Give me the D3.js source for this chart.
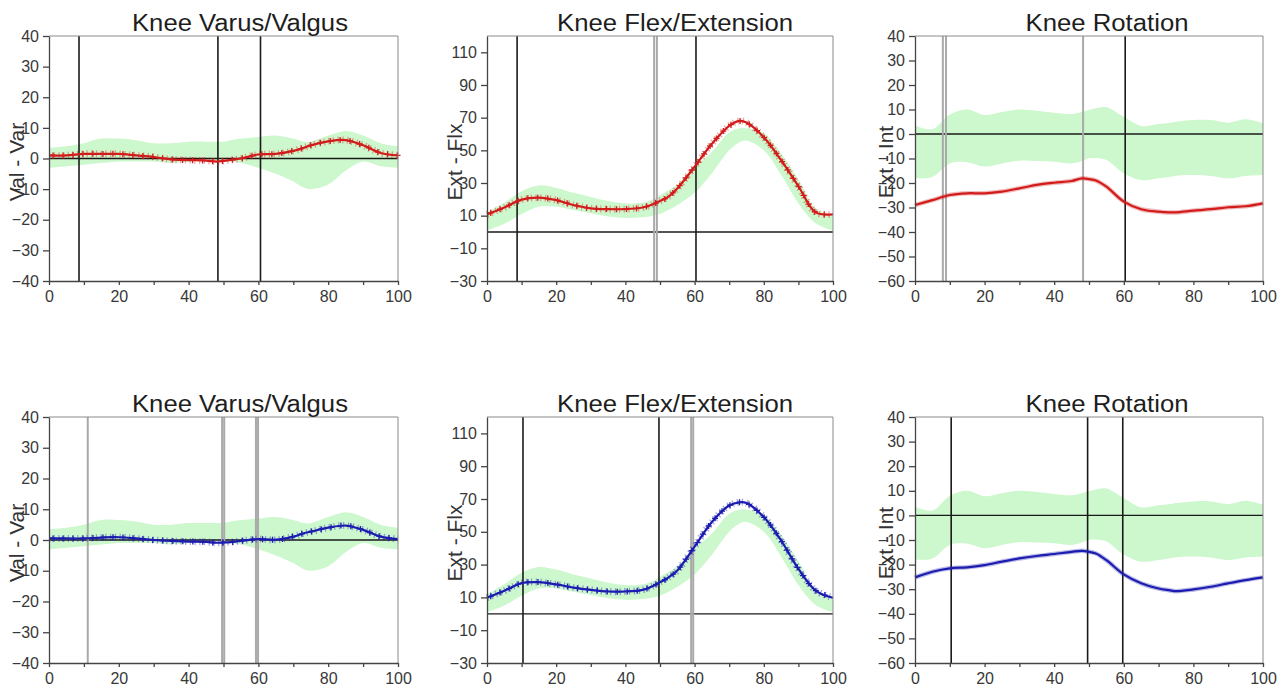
<!DOCTYPE html>
<html>
<head>
<meta charset="utf-8">
<script src="https://d3js.org/d3.v7.min.js"></script>
<style>
    body { margin: 0; background: #fff; }
    svg { display: block; font-family: "Liberation Sans", Arial, sans-serif; }
    .tick text { fill: #383838; }
</style>
</head>
<body>
<script>
//gait cycle percentages the curves were read at
var pct = [0, 5, 10, 15, 20, 25, 30, 35, 40, 45, 48, 50, 52, 55, 60, 65, 70, 73, 75, 80, 85, 90, 95, 100];

//normal bands (same for both sides)
var varusBandHi = [3.5, 4, 5, 6.5, 6.5, 6, 5, 5, 5.5, 5.5, 5.5, 5.5, 6, 6.5, 7, 7.5, 6.5, 5.5, 5.5, 7.5, 9, 7.5, 5, 4];
var varusBandLo = [-3, -2.5, -2, -1.5, -1, -1, -1, -1.5, -1, -0.5, -0.5, -0.5, -1, -1.5, -3, -5, -7.5, -9.5, -10, -8.5, -4, -1, -2.5, -3];
var flexBandHi = [12, 18, 25, 28.5, 27, 24, 21.5, 19, 17.5, 18, 20, 22.5, 25, 29, 40, 49, 61, 63.5, 63.5, 60.4, 48, 32, 14.5, 9.4];
var flexBandLo = [1, 5, 11, 15.5, 15.5, 13.5, 11.5, 9.5, 8.5, 9, 10, 11, 13, 16.5, 24, 36, 50, 55, 56, 50, 35, 17.5, 5.3, 0.8];
var rotBandHi = [3.5, 2, 8, 10, 7.8, 9, 10, 9.5, 8.7, 8.2, 9, 9.8, 10.5, 10.9, 7, 3.3, 4.1, 4.5, 5, 5.7, 5.7, 4.6, 6, 4.4];
var rotBandLo = [-18, -17.5, -12, -11.5, -13.3, -12, -10.9, -11, -11.3, -12, -11, -9.9, -9.8, -10.6, -16, -18.8, -18.1, -17.5, -17, -16.7, -17.1, -18.1, -17.1, -16.7];

//left side (red, top row)
var varusLeft = [1, 1, 1.5, 1.5, 1.5, 1, 0.5, -0.3, -0.5, -0.7, -1, -0.8, -0.5, 0, 1.3, 1.5, 2.5, 3.5, 4.3, 5.6, 6, 4.3, 1.8, 1];
var flexLeft = [10.8, 15, 19.8, 21, 19.5, 16.5, 14.5, 14, 14, 15, 17, 19, 21, 26.7, 40, 54, 65, 68, 67, 58, 44, 28, 12, 10.8];
var rotLeft = [-29, -27, -24.9, -24.2, -24.2, -23.5, -22.2, -20.8, -19.9, -19.2, -18.1, -18.4, -19, -21.5, -27.6, -30.7, -31.7, -32, -32, -31.3, -30.7, -29.9, -29.5, -28.3];

//right side (blue, bottom row)
var varusRight = [0.5, 0.5, 0.5, 0.8, 0.9, 0.5, 0, -0.3, -0.5, -0.6, -0.9, -0.8, -0.7, -0.3, 0.3, 0.1, 1.1, 2.2, 2.7, 4, 4.7, 3.3, 1.1, 0.3];
var flexRight = [9.8, 14, 18.7, 19.3, 17.9, 16, 14.6, 13.6, 13.6, 14.6, 17, 19.3, 21.5, 26.4, 41, 56, 66, 68, 67.5, 59, 44.7, 27.4, 14.2, 9.8];
var rotRight = [-25.2, -22.9, -21.5, -21.1, -20.2, -18.8, -17.5, -16.5, -15.7, -14.8, -14.4, -14.8, -15.5, -18.2, -24, -27.6, -29.7, -30.4, -30.8, -30.1, -29, -27.6, -26.3, -25.2];

//gait events per panel (k = patient, g = normal)
var eventsVarusL = [8.6, 48.4, 60.6];
var eventKindVarusL = ["k", "k", "k"];
var eventsFlexL = [8.7, 48.3, 49.1, 60.4];
var eventKindFlexL = ["k", "g", "g", "k"];
var eventsRotL = [8.0, 8.9, 48.3, 60.4];
var eventKindRotL = ["g", "g", "g", "k"];
var eventsVarusR = [11.1, 49.6, 50.2, 59.3, 59.9];
var eventKindVarusR = ["g", "g", "g", "g", "g"];
var eventsFlexR = [10.4, 49.7, 59.0, 59.6];
var eventKindFlexR = ["k", "k", "g", "g"];
var eventsRotR = [10.4, 49.6, 59.7];
var eventKindRotR = ["k", "k", "k"];

//titles, axis labels and ticks
var titles = ["Knee Varus/Valgus", "Knee Flex/Extension", "Knee Rotation"];
var yLabels = ["Val - Var", "Ext - Flx", "Ext - Int"];
var yDomains = [[-40, 40], [-30, 120], [-60, 40]];
var yTicks = [
    [-40, -30, -20, -10, 0, 10, 20, 30, 40],
    [-30, -10, 10, 30, 50, 70, 90, 110],
    [-60, -50, -40, -30, -20, -10, 0, 10, 20, 30, 40]
];
var xTicks = [0, 10, 20, 30, 40, 50, 60, 70, 80, 90, 100];

//page layout
var width = 1282,
    height = 689;
var colLeft = [49, 487, 915],
    colRight = [398, 833, 1263],
    rowTop = [36, 417],
    rowBottom = [281, 663],
    titleX = [240, 675, 1107],
    titleLen = [216, 236, 163],
    titleY = [31, 412],
    yLabelX = [24, 462, 893];

var svg = d3.select("body")
    .append("svg")
    .attr("width", width)
    .attr("height", height);

var panels = [
    {row: 0, col: 0, hi: varusBandHi, lo: varusBandLo, mean: varusLeft, ev: eventsVarusL, kind: eventKindVarusL, color: "#d21c1c", marks: true},
    {row: 0, col: 1, hi: flexBandHi, lo: flexBandLo, mean: flexLeft, ev: eventsFlexL, kind: eventKindFlexL, color: "#d21c1c", marks: true},
    {row: 0, col: 2, hi: rotBandHi, lo: rotBandLo, mean: rotLeft, ev: eventsRotL, kind: eventKindRotL, color: "#d21c1c", marks: false},
    {row: 1, col: 0, hi: varusBandHi, lo: varusBandLo, mean: varusRight, ev: eventsVarusR, kind: eventKindVarusR, color: "#1c1cb0", marks: true},
    {row: 1, col: 1, hi: flexBandHi, lo: flexBandLo, mean: flexRight, ev: eventsFlexR, kind: eventKindFlexR, color: "#1c1cb0", marks: true},
    {row: 1, col: 2, hi: rotBandHi, lo: rotBandLo, mean: rotRight, ev: eventsRotR, kind: eventKindRotR, color: "#1c1cb0", marks: false}
];

panels.forEach(drawPanel);

function drawPanel(p){
    var x = d3.scaleLinear().domain([0, 100]).range([colLeft[p.col], colRight[p.col]]);
    var y = d3.scaleLinear().domain(yDomains[p.col]).range([rowBottom[p.row], rowTop[p.row]]);
    var g = svg.append("g");

    //normal band
    var area = d3.area()
        .x(function(d, i){ return x(pct[i]); })
        .y0(function(d, i){ return y(p.lo[i]); })
        .y1(function(d){ return y(d); })
        .curve(d3.curveCatmullRom);
    g.append("path")
        .datum(p.hi)
        .attr("d", area)
        .attr("fill", "#cdf7cd");

    //zero line
    g.append("line")
        .attr("x1", x(0)).attr("x2", x(100))
        .attr("y1", y(0)).attr("y2", y(0))
        .attr("stroke", "#1a1a1a")
        .attr("stroke-width", 1.3);

    //event lines
    g.selectAll(".event")
        .data(p.ev)
        .enter()
        .append("line")
        .attr("class", "event")
        .attr("x1", function(d){ return x(d); })
        .attr("x2", function(d){ return x(d); })
        .attr("y1", y.range()[1])
        .attr("y2", y.range()[0])
        .attr("stroke", function(d, i){ return p.kind[i] == "k" ? "#1a1a1a" : "#a9a9a9"; })
        .attr("stroke-width", function(d, i){ return p.kind[i] == "k" ? 1.6 : 2; });

    //mean curve
    var line = d3.line()
        .x(function(d, i){ return x(pct[i]); })
        .y(function(d){ return y(d); })
        .curve(d3.curveCatmullRom);

    if (p.marks){
        //dotted spread around the mean
        g.append("path")
            .datum(p.mean)
            .attr("d", line)
            .attr("fill", "none")
            .attr("stroke", p.color)
            .attr("stroke-opacity", 0.4)
            .attr("stroke-width", 7)
            .attr("stroke-dasharray", "1.2,3.5");
    } else {
        g.append("path")
            .datum(p.mean)
            .attr("d", line)
            .attr("fill", "none")
            .attr("stroke", p.color)
            .attr("stroke-opacity", 0.3)
            .attr("stroke-width", 4.5);
    }

    var meanPath = g.append("path")
        .datum(p.mean)
        .attr("d", line)
        .attr("fill", "none")
        .attr("stroke", p.color)
        .attr("stroke-width", 2.2);

    //small crosses along the curve
    if (p.marks){
        var node = meanPath.node(),
            total = node.getTotalLength(),
            pts = d3.range(4, total, 10).map(function(l){ return node.getPointAtLength(l); });
        g.selectAll(".mark")
            .data(pts)
            .enter()
            .append("path")
            .attr("class", "mark")
            .attr("d", function(d){
                return "M" + (d.x - 3) + "," + d.y + "H" + (d.x + 3) +
                       "M" + d.x + "," + (d.y - 3) + "V" + (d.y + 3);
            })
            .attr("stroke", p.color)
            .attr("stroke-width", 1.3);
    }

    //frame top and right
    g.append("path")
        .attr("d", "M" + x(0) + "," + y.range()[1] + "H" + x(100) + "V" + y.range()[0])
        .attr("fill", "none")
        .attr("stroke", "#8a8a8a")
        .attr("stroke-width", 1);

    //axes
    var yAxis = g.append("g")
        .attr("transform", "translate(" + x(0) + ",0)")
        .call(d3.axisLeft(y).tickValues(yTicks[p.col]).tickSize(6).tickPadding(4).tickSizeOuter(0));
    yAxis.selectAll("text").style("font-size", "16px");

    var xAxis = g.append("g")
        .attr("transform", "translate(0," + y.range()[0] + ")")
        .call(d3.axisBottom(x).tickValues(xTicks).tickSize(4).tickPadding(6).tickSizeOuter(0)
            .tickFormat(function(d){ return d % 20 == 0 ? d : ""; }));
    xAxis.selectAll("text").style("font-size", "16px");

    g.selectAll(".domain, .tick line")
        .attr("stroke", "#444")
        .attr("stroke-width", 1.3);

    //title
    g.append("text")
        .attr("x", titleX[p.col])
        .attr("y", titleY[p.row])
        .attr("text-anchor", "middle")
        .attr("textLength", titleLen[p.col])
        .attr("lengthAdjust", "spacingAndGlyphs")
        .style("font-size", "23px")
        .style("fill", "#1e1e1e")
        .text(titles[p.col]);

    //y label
    g.append("text")
        .attr("transform", "translate(" + yLabelX[p.col] + "," + (rowTop[p.row] + 126) + ") rotate(-90)")
        .attr("text-anchor", "middle")
        .style("font-size", "21px")
        .style("fill", "#333")
        .text(yLabels[p.col]);
}
</script>
</body>
</html>
